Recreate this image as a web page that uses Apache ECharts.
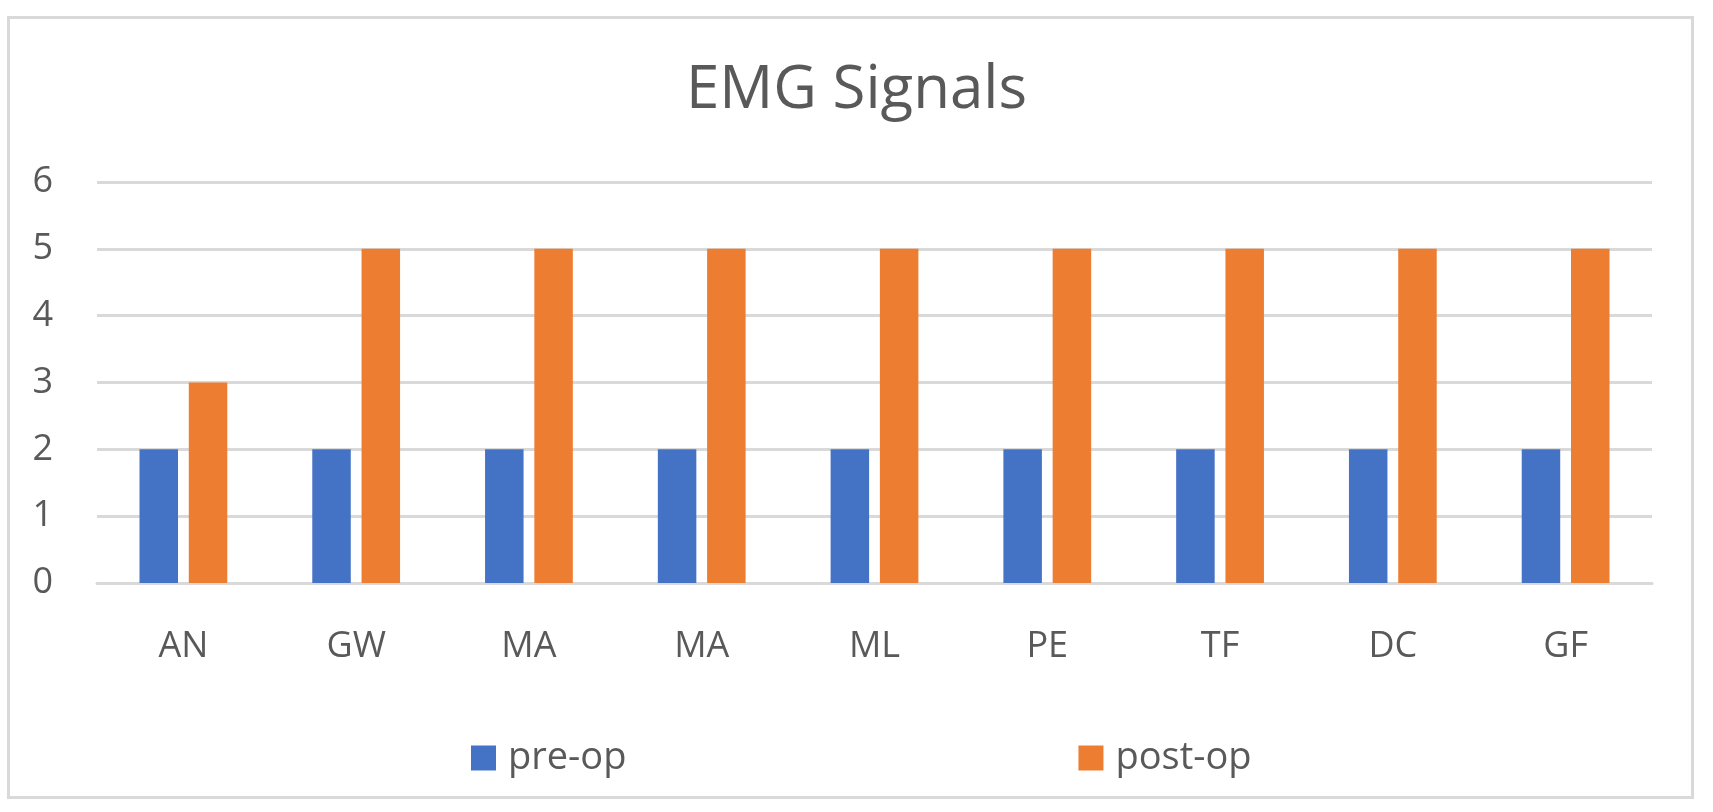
<!DOCTYPE html>
<html>
<head>
<meta charset="utf-8">
<script src="https://cdn.jsdelivr.net/npm/echarts@6/dist/echarts.min.js"></script>
<style>
html,body{margin:0;padding:0;background:#fff;}
#chart{width:1713px;height:812px;}
</style>
</head>
<body>
<div id="chart"></div>
<script>
const categories = ['AN','GW','MA','MA','ML','PE','TF','DC','GF'];
const preOp = [2,2,2,2,2,2,2,2,2];
const postOp = [3,5,5,5,5,5,5,5,5];
const yTicks = {min:0, max:6, interval:1};

const FONT = 'Open Sans';
const TXT = '#595959';
const chart = echarts.init(document.getElementById('chart'));
chart.setOption({
  backgroundColor:'#fff',
  animation:false,
  title:{
    text:'EMG Signals',
    left:'center',
    top:56,
    textStyle:{fontFamily:FONT,fontSize:60,fontWeight:'normal',color:TXT}
  },
  graphic:[{
    type:'rect',
    shape:{x:8.5,y:17.5,width:1684,height:780},
    style:{fill:'none',stroke:'#d9d9d9',lineWidth:3},
    silent:true
  }],
  legend:{
    left:466,
    top:734,
    itemWidth:25,
    itemHeight:25,
    itemGap:452,
    icon:'rect',
    textStyle:{fontFamily:FONT,fontSize:38,color:TXT,padding:[0,0,0,7]},
    data:['pre-op','post-op']
  },
  grid:{left:97,right:61,top:182,bottom:229,containLabel:false},
  xAxis:{
    type:'category',
    data:categories,
    axisLine:{show:true,lineStyle:{color:'#d9d9d9',width:3}},
    axisTick:{show:false},
    axisLabel:{fontFamily:FONT,fontSize:36,color:TXT,margin:46}
  },
  yAxis:{
    type:'value',
    min:yTicks.min,max:yTicks.max,interval:yTicks.interval,
    axisLine:{show:false},
    axisTick:{show:false},
    splitLine:{lineStyle:{color:'#d9d9d9',width:3}},
    axisLabel:{fontFamily:FONT,fontSize:36,color:TXT,margin:44}
  },
  series:[
    {name:'pre-op',type:'bar',data:preOp,barWidth:38.5,barGap:'28%',itemStyle:{color:'#4472C4'}},
    {name:'post-op',type:'bar',data:postOp,barWidth:38.5,barGap:'28%',itemStyle:{color:'#ED7D31'}}
  ]
});
</script>
</body>
</html>
